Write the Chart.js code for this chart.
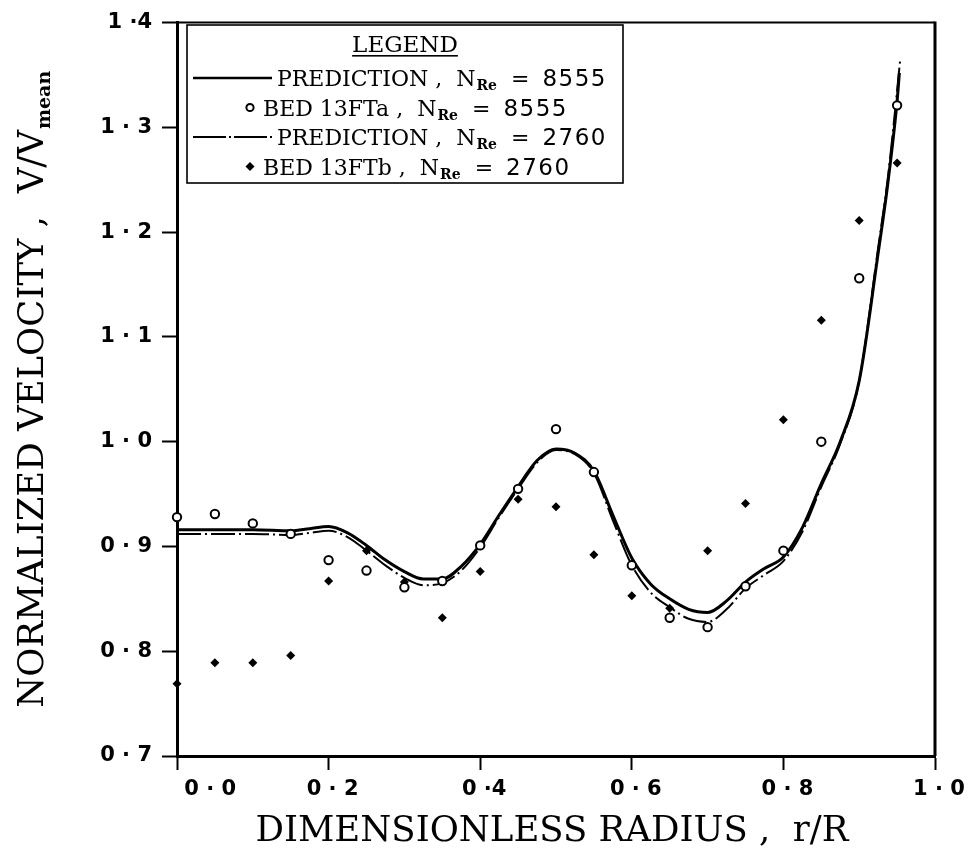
<!DOCTYPE html>
<html>
<head>
<meta charset="utf-8">
<script src="https://cdn.jsdelivr.net/npm/chart.js@4.4.0/dist/chart.umd.min.js"></script>
<style>
html,body{margin:0;padding:0;background:#fff;}
#wrap{width:971px;height:853px;}
</style>
</head>
<body>
<div id="wrap"><canvas id="c" width="971" height="853"></canvas></div>
<script>
// ---- data ----
const radii = [0,0.05,0.10,0.15,0.20,0.25,0.30,0.35,0.40,0.45,0.50,0.55,0.60,0.65,0.70,0.75,0.80,0.85,0.90,0.95];
const bed13FTa = [0.928,0.931,0.922,0.912,0.887,0.877,0.861,0.867,0.901,0.955,1.012,0.971,0.882,0.832,0.823,0.862,0.896,1.000,1.156,1.321];
const bed13FTb = [0.769,0.789,0.789,0.796,0.867,0.896,0.866,0.832,0.876,0.945,0.938,0.892,0.853,0.841,0.896,0.941,1.021,1.116,1.211,1.266];

const predR8555 = [0,0.05,0.10,0.15,0.175,0.20,0.225,0.25,0.275,0.30,0.325,0.35,0.375,0.40,0.425,0.45,0.475,0.50,0.525,0.55,0.575,0.60,0.625,0.65,0.675,0.70,0.725,0.75,0.775,0.80,0.825,0.85,0.875,0.90,0.925,0.9375,0.95,0.953];
const pred8555  = [0.916,0.916,0.916,0.915,0.917,0.919,0.913,0.901,0.887,0.876,0.869,0.869,0.881,0.902,0.930,0.957,0.982,0.993,0.989,0.972,0.930,0.889,0.864,0.850,0.840,0.837,0.848,0.866,0.879,0.890,0.918,0.960,1.000,1.058,1.180,1.245,1.325,1.352];
const predR2760 = [0,0.05,0.10,0.15,0.175,0.20,0.225,0.25,0.275,0.30,0.325,0.35,0.375,0.40,0.425,0.45,0.475,0.50,0.525,0.55,0.575,0.60,0.625,0.65,0.675,0.70,0.725,0.75,0.775,0.80,0.825,0.85,0.875,0.90,0.925,0.9375,0.95,0.954];
const pred2760  = [0.912,0.912,0.912,0.911,0.913,0.915,0.909,0.896,0.882,0.870,0.863,0.865,0.877,0.899,0.928,0.955,0.980,0.992,0.988,0.970,0.925,0.882,0.856,0.842,0.831,0.828,0.840,0.860,0.873,0.886,0.914,0.957,0.998,1.058,1.185,1.250,1.335,1.364];

const xTickValues = [0,0.2,0.4,0.6,0.8,1.0];
const xTickLabels = ['0 · 0','0 · 2','0 ·4','0 · 6','0 · 8','1 · 0'];
const yTickValues = [0.7,0.8,0.9,1.0,1.1,1.2,1.3,1.4];
const yTickLabels = ['0 · 7','0 · 8','0 · 9','1 · 0','1 · 1','1 · 2','1 · 3','1 ·4'];

const xTitle = 'DIMENSIONLESS RADIUS ,  r/R';
const yTitleMain = 'NORMALIZED VELOCITY ,  V/V';
const yTitleSub = 'mean';
const legendTitle = 'LEGEND';
const legendRows = [
  {kind:'solid',  label:'PREDICTION ,  N', re:'Re', num:'8555'},
  {kind:'circle', label:'BED 13FTa ,  N',  re:'Re', num:'8555'},
  {kind:'dashdot',label:'PREDICTION ,  N', re:'Re', num:'2760'},
  {kind:'diamond',label:'BED 13FTb ,  N',  re:'Re', num:'2760'}
];

const toXY = (xs, ys) => xs.map((x, i) => ({x: x, y: ys[i]}));

const SERIF = '"DejaVu Serif", "Liberation Serif", serif';
const SANS = '"DejaVu Sans", "Liberation Sans", sans-serif';
const DASHDOT = [24, 4, 2, 4];

// ---- custom drawing: frame, titles, legend ----
const decor = {
  id: 'decor',
  afterDraw(chart) {
    const ctx = chart.ctx;
    const a = chart.chartArea;
    ctx.save();
    ctx.strokeStyle = '#000';
    ctx.fillStyle = '#000';
    // top and right frame
    ctx.lineWidth = 2;
    ctx.beginPath(); ctx.moveTo(a.left, a.top); ctx.lineTo(a.right, a.top); ctx.stroke();
    ctx.lineWidth = 3;
    ctx.beginPath(); ctx.moveTo(a.right, a.top - 1); ctx.lineTo(a.right, a.bottom); ctx.stroke();

    // x title
    ctx.font = '35.5px ' + SERIF;
    ctx.textAlign = 'center';
    ctx.textBaseline = 'alphabetic';
    ctx.fillText(xTitle, (a.left + a.right) / 2 - 4, 841);

    // y title (rotated) with subscript
    ctx.save();
    ctx.translate(43, (a.top + a.bottom) / 2);
    ctx.rotate(-Math.PI / 2);
    ctx.font = '35.5px ' + SERIF;
    const wMain = ctx.measureText(yTitleMain).width;
    ctx.font = 'bold 19px ' + SERIF;
    const wSub = ctx.measureText(yTitleSub).width;
    const start = -(wMain + wSub + 1) / 2;
    ctx.textAlign = 'left';
    ctx.font = '35.5px ' + SERIF;
    ctx.fillText(yTitleMain, start, 0);
    ctx.font = 'bold 19px ' + SERIF;
    ctx.fillText(yTitleSub, start + wMain + 1, 7);
    ctx.restore();

    // legend box
    const bx = a.left + 10, by = 25, bw = 436, bh = 158;
    ctx.fillStyle = '#fff';
    ctx.fillRect(bx, by, bw, bh);
    ctx.fillStyle = '#000';
    ctx.lineWidth = 1.6;
    ctx.strokeRect(bx, by, bw, bh);
    ctx.font = '23px ' + SERIF;
    ctx.textAlign = 'center';
    ctx.fillText(legendTitle, bx + bw / 2, 52);
    const tw = ctx.measureText(legendTitle).width;
    ctx.fillRect(bx + bw / 2 - tw / 2, 55, tw, 1.6);

    ctx.textAlign = 'left';
    const baselines = [86, 115.5, 145, 174.5];
    legendRows.forEach((row, i) => {
      const yb = baselines[i];
      const ym = yb - 8;
      let x;
      if (row.kind === 'solid' || row.kind === 'dashdot') {
        ctx.save();
        ctx.lineWidth = row.kind === 'solid' ? 2.6 : 2.2;
        if (row.kind === 'dashdot') ctx.setLineDash([33, 3, 2, 3]);
        ctx.beginPath(); ctx.moveTo(bx + 6, ym); ctx.lineTo(bx + 85, ym); ctx.stroke();
        ctx.restore();
        x = bx + 90;
      } else if (row.kind === 'circle') {
        ctx.save();
        ctx.lineWidth = 2;
        ctx.beginPath(); ctx.arc(bx + 63, ym, 3.6, 0, Math.PI * 2); ctx.stroke();
        ctx.restore();
        x = bx + 76;
      } else {
        ctx.beginPath();
        ctx.moveTo(bx + 63, ym - 4.5); ctx.lineTo(bx + 67.5, ym);
        ctx.lineTo(bx + 63, ym + 4.5); ctx.lineTo(bx + 58.5, ym);
        ctx.closePath(); ctx.fill();
        x = bx + 76;
      }
      ctx.font = '22px ' + SERIF;
      ctx.fillText(row.label, x, yb);
      x += ctx.measureText(row.label).width + 1;
      ctx.font = 'bold 14px ' + SERIF;
      ctx.fillText(row.re, x, yb + 4);
      x += ctx.measureText(row.re).width;
      ctx.font = '22px ' + SERIF;
      const eq = '  = ';
      ctx.fillText(eq, x, yb);
      x += ctx.measureText(eq).width + 6;
      ctx.font = '23px ' + SANS;
      if ('letterSpacing' in ctx) ctx.letterSpacing = '1.5px';
      ctx.fillText(row.num, x, yb);
      if ('letterSpacing' in ctx) ctx.letterSpacing = '0px';
    });
    ctx.restore();
  }
};

const tickFont = {family: SANS, size: 21, weight: 'bold'};

new Chart(document.getElementById('c'), {
  type: 'scatter',
  data: {
    datasets: [
      {
        label: 'BED 13FTa, NRe = 8555',
        data: toXY(radii, bed13FTa),
        pointStyle: 'circle', pointRadius: 4.2, pointBorderWidth: 2,
        pointBackgroundColor: '#fff', pointBorderColor: '#000',
        showLine: false, clip: false
      },
      {
        label: 'BED 13FTb, NRe = 2760',
        data: toXY(radii, bed13FTb),
        pointStyle: 'rectRot', pointRadius: 4.5, pointBorderWidth: 0,
        pointBackgroundColor: '#000', pointBorderColor: '#000',
        showLine: false, clip: false
      },
      {
        label: 'PREDICTION, NRe = 8555',
        data: toXY(predR8555, pred8555),
        showLine: true, borderColor: '#000', borderWidth: 3,
        pointRadius: 0, cubicInterpolationMode: 'monotone', fill: false
      },
      {
        label: 'PREDICTION, NRe = 2760',
        data: toXY(predR2760, pred2760),
        showLine: true, borderColor: '#000', borderWidth: 2, borderDash: DASHDOT,
        pointRadius: 0, cubicInterpolationMode: 'monotone', fill: false
      }
    ]
  },
  options: {
    responsive: false,
    animation: false,
    events: [],
    layout: {padding: {top: 16, right: 36, left: 0, bottom: 0}},
    plugins: {legend: {display: false}, tooltip: {enabled: false}, title: {display: false}},
    scales: {
      x: {
        type: 'linear', min: 0, max: 1,
        afterBuildTicks: s => { s.ticks = xTickValues.map(v => ({value: v})); },
        afterFit: s => { s.height = 97; },
        grid: {display: true, drawOnChartArea: false, drawTicks: true, tickLength: 14, tickWidth: 2, tickColor: '#000', color: '#000'},
        border: {display: true, color: '#000', width: 3},
        ticks: {
          color: '#000', font: tickFont, padding: 7, maxRotation: 0, minRotation: 0, autoSkip: false, labelOffset: 4,
          callback: (v, i) => (i === 0 ? '        ' : '') + xTickLabels[i]
        }
      },
      y: {
        type: 'linear', min: 0.7, max: 1.4,
        afterBuildTicks: s => { s.ticks = yTickValues.map(v => ({value: v})); },
        afterFit: s => { s.width = 177; },
        grid: {display: true, drawOnChartArea: false, drawTicks: true, tickLength: 15, tickWidth: 2, tickColor: '#000', color: '#000'},
        border: {display: true, color: '#000', width: 3},
        ticks: {
          color: '#000', font: tickFont, padding: 10, autoSkip: false,
          callback: (v, i) => yTickLabels[i]
        }
      }
    }
  },
  plugins: [decor]
});
</script>
</body>
</html>
